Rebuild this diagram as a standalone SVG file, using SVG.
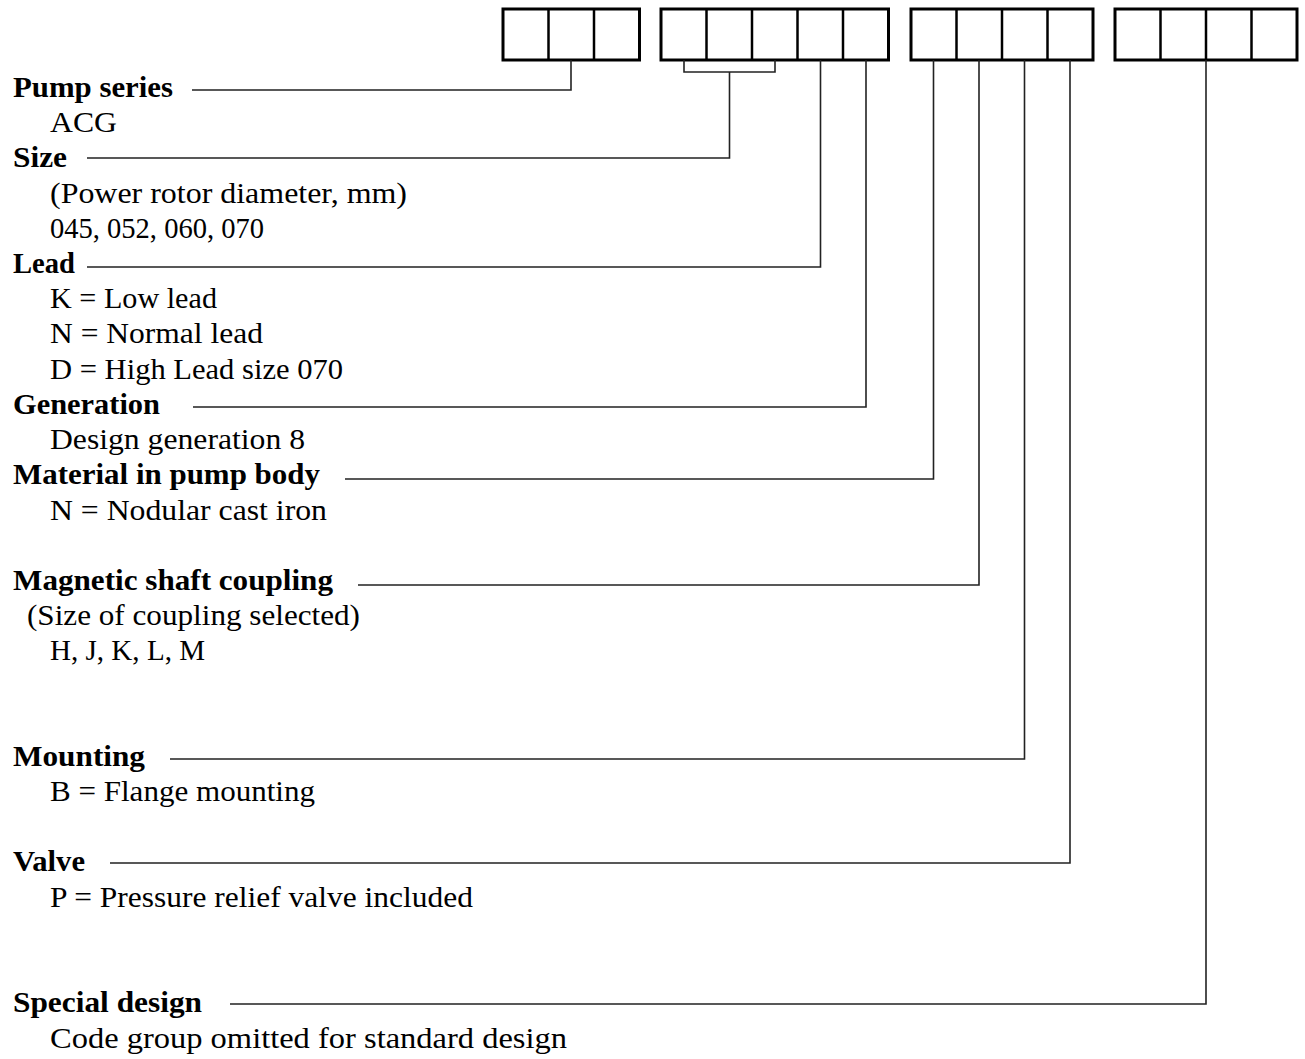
<svg xmlns="http://www.w3.org/2000/svg" width="1305" height="1059" viewBox="0 0 1305 1059">
<style>
.lbl{font-family:"Liberation Serif","DejaVu Serif",serif;font-size:29px;font-weight:bold;fill:#000}
.val{font-family:"Liberation Serif","DejaVu Serif",serif;font-size:29px;fill:#000}
.box{fill:#fff;stroke:#000;stroke-width:3}
.div{stroke:#000;stroke-width:2.5}
.con{fill:none;stroke:#222;stroke-width:1.6}
</style>
<rect width="1305" height="1059" fill="#fff"/>
<g id="code-boxes">
<g id="group1">
<rect class="box" x="503" y="9" width="136.5" height="51"/>
<line class="div" x1="548.5" y1="9" x2="548.5" y2="60"/>
<line class="div" x1="594" y1="9" x2="594" y2="60"/>
</g>
<g id="group2">
<rect class="box" x="661" y="9" width="227.5" height="51"/>
<line class="div" x1="706.5" y1="9" x2="706.5" y2="60"/>
<line class="div" x1="752" y1="9" x2="752" y2="60"/>
<line class="div" x1="797.5" y1="9" x2="797.5" y2="60"/>
<line class="div" x1="843" y1="9" x2="843" y2="60"/>
</g>
<g id="group3">
<rect class="box" x="911" y="9" width="182" height="51"/>
<line class="div" x1="956.5" y1="9" x2="956.5" y2="60"/>
<line class="div" x1="1002" y1="9" x2="1002" y2="60"/>
<line class="div" x1="1047.5" y1="9" x2="1047.5" y2="60"/>
</g>
<g id="group4">
<rect class="box" x="1115" y="9" width="182" height="51"/>
<line class="div" x1="1160.5" y1="9" x2="1160.5" y2="60"/>
<line class="div" x1="1206" y1="9" x2="1206" y2="60"/>
<line class="div" x1="1251.5" y1="9" x2="1251.5" y2="60"/>
</g>
</g>
<g id="connectors">
<polyline class="con" points="571,60 571,90 192,90"/>
<polyline class="con" points="684,60 684,72 775,72 775,60"/>
<polyline class="con" points="729.5,72 729.5,158 87,158"/>
<polyline class="con" points="820.5,60 820.5,267 87,267"/>
<polyline class="con" points="866,60 866,407 193,407"/>
<polyline class="con" points="933.5,60 933.5,479 345,479"/>
<polyline class="con" points="979,60 979,585 358,585"/>
<polyline class="con" points="1024.5,60 1024.5,759 170,759"/>
<polyline class="con" points="1070,60 1070,863 110,863"/>
<polyline class="con" points="1206,60 1206,1004 230,1004"/>
</g>
<g id="pump-series">
<text class="lbl" x="13" y="97" textLength="160" lengthAdjust="spacingAndGlyphs">Pump series</text>
<text class="val" x="50" y="132" textLength="67" lengthAdjust="spacingAndGlyphs">ACG</text>
</g>
<g id="size">
<text class="lbl" x="13" y="167" textLength="54" lengthAdjust="spacingAndGlyphs">Size</text>
<text class="val" x="50" y="203" textLength="357" lengthAdjust="spacingAndGlyphs">(Power rotor diameter, mm)</text>
<text class="val" x="50" y="238" textLength="214" lengthAdjust="spacingAndGlyphs">045, 052, 060, 070</text>
</g>
<g id="lead">
<text class="lbl" x="13" y="273" textLength="62" lengthAdjust="spacingAndGlyphs">Lead</text>
<text class="val" x="50" y="308" textLength="167" lengthAdjust="spacingAndGlyphs">K = Low lead</text>
<text class="val" x="50" y="343" textLength="213" lengthAdjust="spacingAndGlyphs">N = Normal lead</text>
<text class="val" x="50" y="378.5" textLength="293" lengthAdjust="spacingAndGlyphs">D = High Lead size 070</text>
</g>
<g id="generation">
<text class="lbl" x="13" y="414" textLength="147" lengthAdjust="spacingAndGlyphs">Generation</text>
<text class="val" x="50" y="449" textLength="255" lengthAdjust="spacingAndGlyphs">Design generation 8</text>
</g>
<g id="material">
<text class="lbl" x="13" y="484" textLength="307" lengthAdjust="spacingAndGlyphs">Material in pump body</text>
<text class="val" x="50" y="519.5" textLength="277" lengthAdjust="spacingAndGlyphs">N = Nodular cast iron</text>
</g>
<g id="magnetic-coupling">
<text class="lbl" x="13" y="590" textLength="320" lengthAdjust="spacingAndGlyphs">Magnetic shaft coupling</text>
<text class="val" x="27" y="625" textLength="333" lengthAdjust="spacingAndGlyphs">(Size of coupling selected)</text>
<text class="val" x="50" y="660" textLength="155" lengthAdjust="spacingAndGlyphs">H, J, K, L, M</text>
</g>
<g id="mounting">
<text class="lbl" x="13" y="766" textLength="132" lengthAdjust="spacingAndGlyphs">Mounting</text>
<text class="val" x="50" y="801" textLength="265" lengthAdjust="spacingAndGlyphs">B = Flange mounting</text>
</g>
<g id="valve">
<text class="lbl" x="13" y="871" textLength="72" lengthAdjust="spacingAndGlyphs">Valve</text>
<text class="val" x="50" y="907" textLength="423" lengthAdjust="spacingAndGlyphs">P = Pressure relief valve included</text>
</g>
<g id="special-design">
<text class="lbl" x="13" y="1012" textLength="189" lengthAdjust="spacingAndGlyphs">Special design</text>
<text class="val" x="50" y="1047.5" textLength="517" lengthAdjust="spacingAndGlyphs">Code group omitted for standard design</text>
</g>
</svg>
